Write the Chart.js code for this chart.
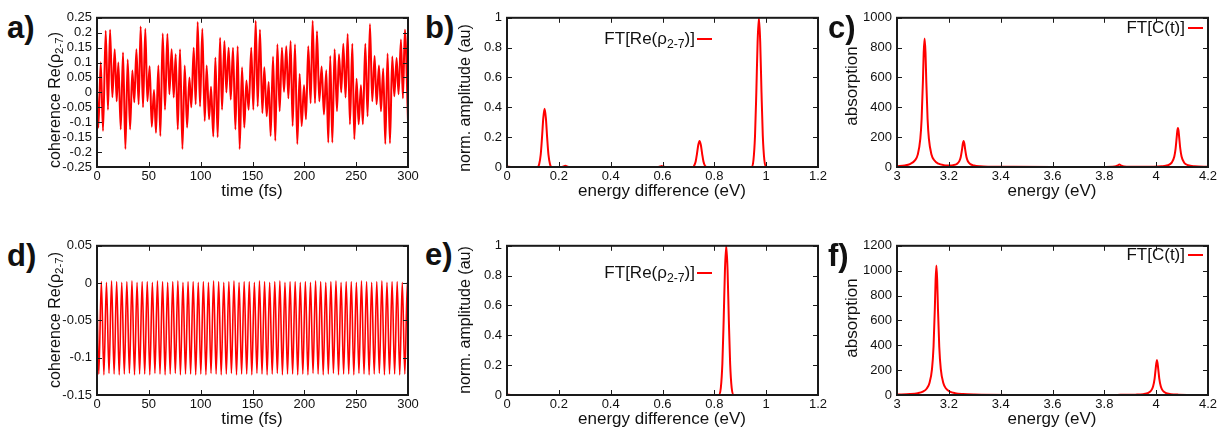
<!DOCTYPE html>
<html>
<head>
<meta charset="utf-8">
<script src="https://cdn.jsdelivr.net/npm/chart.js@4.4.1/dist/chart.umd.min.js"></script>
<style>
  body { margin: 0; background: #fff; }
  #wrap { position: relative; width: 1222px; height: 428px; overflow: hidden; background: #fff;
          font-family: 'Liberation Sans', Arial, sans-serif; color: #111; }
  canvas { position: absolute; }
  .tag { position: absolute; font-weight: bold; font-size: 31px; line-height: 30px; }
  .xtitle { position: absolute; font-size: 17px; white-space: nowrap; transform: translate(-50%, -50%); }
  .ytitle { position: absolute; font-size: 16px; white-space: nowrap; transform: translate(-50%, -50%) rotate(-90deg); }
  .key { position: absolute; font-size: 17px; white-space: nowrap; line-height: 20px; text-align: right; }
  .keyline { position: absolute; width: 15px; height: 2px; background: #ff0000; }
  sub { font-size: 0.72em; vertical-align: -0.3em; line-height: 0; }
</style>
</head>
<body>
<div id="wrap">
  <canvas id="chartA" width="372" height="184" style="left:52px;top:5px"></canvas>
  <canvas id="chartB" width="372" height="184" style="left:462px;top:5px"></canvas>
  <canvas id="chartC" width="372" height="184" style="left:852px;top:5px"></canvas>
  <canvas id="chartD" width="372" height="184" style="left:52px;top:233px"></canvas>
  <canvas id="chartE" width="372" height="184" style="left:462px;top:233px"></canvas>
  <canvas id="chartF" width="372" height="184" style="left:852px;top:233px"></canvas>

  <div class="tag" style="left:7px;top:13px">a)</div>
  <div class="tag" style="left:425px;top:13px">b)</div>
  <div class="tag" style="left:828px;top:13px">c)</div>
  <div class="tag" style="left:7px;top:241px">d)</div>
  <div class="tag" style="left:425px;top:240px">e)</div>
  <div class="tag" style="left:828px;top:241px">f)</div>

  <div class="ytitle" style="left:55px;top:100px">coherence Re(ρ<sub>2-7</sub>)</div>
  <div class="ytitle" style="left:465px;top:98px">norm. amplitude (au)</div>
  <div class="ytitle" style="left:852px;top:86px;font-size:17px">absorption</div>
  <div class="ytitle" style="left:55px;top:320px">coherence Re(ρ<sub>2-7</sub>)</div>
  <div class="ytitle" style="left:465px;top:320px">norm. amplitude (au)</div>
  <div class="ytitle" style="left:852px;top:318px;font-size:17px">absorption</div>

  <div class="xtitle" style="left:252px;top:191px">time (fs)</div>
  <div class="xtitle" style="left:662px;top:191px">energy difference (eV)</div>
  <div class="xtitle" style="left:1052px;top:191px">energy (eV)</div>
  <div class="xtitle" style="left:252px;top:419px">time (fs)</div>
  <div class="xtitle" style="left:662px;top:419px">energy difference (eV)</div>
  <div class="xtitle" style="left:1052px;top:419px">energy (eV)</div>

  <div class="key" style="right:527px;top:29px">FT[Re(ρ<sub>2-7</sub>)]</div>
  <div class="keyline" style="left:697px;top:38px"></div>
  <div class="key" style="right:527px;top:263px">FT[Re(ρ<sub>2-7</sub>)]</div>
  <div class="keyline" style="left:697px;top:272px"></div>
  <div class="key" style="right:37px;top:18px">FT[C(t)]</div>
  <div class="keyline" style="left:1188px;top:27px"></div>
  <div class="key" style="right:37px;top:245px">FT[C(t)]</div>
  <div class="keyline" style="left:1188px;top:254px"></div>
</div>

<script>
// a) coherence, extrema (time in fs)
const aTime = [0, 1.3, 3.6, 5.8, 8.4, 10.6, 12.6, 14.8, 17.1, 19.0, 20.6, 22.9, 25.1, 27.4, 29.6, 31.9, 34.1, 36.0,
    38.0, 40.2, 42.1, 44.4, 46.6, 48.6, 50.8, 52.8, 55.0, 56.9, 59.2, 61.1, 63.4, 65.6, 67.9, 69.8, 72.0, 74.0,
    75.9, 77.9, 80.1, 82.4, 84.6, 86.9, 89.1, 91.0, 93.3, 95.2, 97.1, 99.4, 101.6, 103.9, 105.8, 108.1, 110.0, 112.2,
    114.2, 116.4, 118.7, 120.6, 122.9, 124.8, 127.0, 129.0, 131.2, 133.5, 135.7, 137.6, 139.9, 142.1, 144.1, 146.3, 148.8,
    150.8, 153.1, 155.0, 157.2, 159.5, 161.4, 163.7, 165.6, 167.5, 169.8, 172.0, 174.0, 176.2, 178.4, 180.4, 182.6, 184.6,
    186.8, 188.7, 191.0, 193.2, 195.5, 197.4, 199.7, 201.6, 203.8, 206.1, 208.0, 210.3, 212.2, 214.4, 216.7, 218.9, 221.2,
    223.1, 225.0, 227.0, 229.2, 231.5, 233.4, 235.6, 237.6, 239.8, 241.8, 244.0, 246.3, 248.2, 250.4, 252.4, 254.6, 256.5,
    258.8, 261.0, 263.3, 265.5, 267.8, 269.7, 272.0, 273.9, 276.1, 278.1, 280.3, 282.6, 284.8, 286.8, 289.0, 290.9, 293.2,
    295.1, 297.0, 300];
const aCoherence = [0.0, -0.118, 0.101, -0.129, 0.207, -0.058, 0.21, -0.016, 0.145, -0.03, 0.10, -0.124, 0.134, -0.19, 0.11, -0.124, 0.073, -0.033,
    0.145, -0.04, 0.221, -0.05, 0.213, -0.03, 0.088, -0.115, 0.008, -0.135, 0.09, -0.146, 0.197, -0.058, 0.196, -0.006, 0.145, -0.017,
    0.128, -0.124, 0.145, -0.19, 0.09, -0.118, 0.05, -0.05, 0.15, -0.04, 0.236, -0.047, 0.213, -0.096, 0.09, -0.09, 0.019, -0.148,
    0.117, -0.15, 0.183, -0.058, 0.172, 0.0, 0.15, -0.024, 0.15, -0.124, 0.155, -0.19, 0.084, -0.118, 0.04, -0.058, 0.15,
    -0.058, 0.24, -0.047, 0.21, -0.069, 0.084, -0.08, 0.035, -0.146, 0.12, -0.162, 0.161, -0.063, 0.15, 0.002, 0.155, -0.02,
    0.172, -0.113, 0.161, -0.173, 0.062, -0.113, 0.024, -0.09, 0.155, -0.036, 0.24, -0.036, 0.205, -0.03, 0.087, -0.074, 0.074,
    -0.168, 0.122, -0.168, 0.145, -0.063, 0.128, 0.0, 0.163, -0.017, 0.196, -0.107, 0.163, -0.157, 0.046, -0.107, 0.024, -0.107,
    0.163, -0.08, 0.229, -0.03, 0.122, -0.04, 0.09, -0.063, 0.08, -0.173, 0.13, -0.17, 0.12, -0.013, 0.115, -0.006, 0.177,
    -0.02, 0.21, -0.096];

// d) coherence, single frequency
const dTime = [0,
    1.74, 4.2, 6.66, 9.12, 11.58, 14.04, 16.5, 18.96, 21.42, 23.88, 26.34, 28.8, 31.26, 33.72, 36.18, 38.64, 41.1, 43.56, 46.02, 48.48,
    50.94, 53.4, 55.86, 58.32, 60.78, 63.24, 65.7, 68.16, 70.62, 73.08, 75.54, 78.0, 80.46, 82.92, 85.38, 87.84, 90.3, 92.76, 95.22, 97.68,
    100.14, 102.6, 105.06, 107.52, 109.98, 112.44, 114.9, 117.36, 119.82, 122.28, 124.74, 127.2, 129.66, 132.12, 134.58, 137.04, 139.5, 141.96, 144.42, 146.88,
    149.34, 151.8, 154.26, 156.72, 159.18, 161.64, 164.1, 166.56, 169.02, 171.48, 173.94, 176.4, 178.86, 181.32, 183.78, 186.24, 188.7, 191.16, 193.62, 196.08,
    198.54, 201.0, 203.46, 205.92, 208.38, 210.84, 213.3, 215.76, 218.22, 220.68, 223.14, 225.6, 228.06, 230.52, 232.98, 235.44, 237.9, 240.36, 242.82, 245.28,
    247.74, 250.2, 252.66, 255.12, 257.58, 260.04, 262.5, 264.96, 267.42, 269.88, 272.34, 274.8, 277.26, 279.72, 282.18, 284.64, 287.1, 289.56, 292.02, 294.48,
    296.94, 299.4,
    300];
const dCoherence = [-0.02,
    -0.122, 0.002, -0.123, 0.001, -0.121, 0.003, -0.122, 0.002, -0.123, 0.001, -0.122, 0.002, -0.121, 0.003, -0.123, 0.001, -0.122, 0.002, -0.122, 0.002,
    -0.123, 0.001, -0.121, 0.003, -0.122, 0.002, -0.123, 0.001, -0.122, 0.002, -0.121, 0.003, -0.123, 0.001, -0.122, 0.002, -0.122, 0.002, -0.123, 0.001,
    -0.122, 0.002, -0.123, 0.001, -0.121, 0.003, -0.122, 0.002, -0.123, 0.001, -0.122, 0.002, -0.121, 0.003, -0.123, 0.001, -0.122, 0.002, -0.122, 0.002,
    -0.123, 0.001, -0.121, 0.003, -0.122, 0.002, -0.123, 0.001, -0.122, 0.002, -0.121, 0.003, -0.123, 0.001, -0.122, 0.002, -0.122, 0.002, -0.123, 0.001,
    -0.122, 0.002, -0.123, 0.001, -0.121, 0.003, -0.122, 0.002, -0.123, 0.001, -0.122, 0.002, -0.121, 0.003, -0.123, 0.001, -0.122, 0.002, -0.122, 0.002,
    -0.123, 0.001, -0.121, 0.003, -0.122, 0.002, -0.123, 0.001, -0.122, 0.002, -0.121, 0.003, -0.123, 0.001, -0.122, 0.002, -0.122, 0.002, -0.123, 0.001,
    -0.122, 0.002,
    -0.004];

// b) and e) Fourier amplitude of the coherence
const bEnergy = [0, 0.02, 0.118, 0.124, 0.13, 0.135, 0.14, 0.145, 0.15, 0.155, 0.16, 0.166, 0.172,
    0.21, 0.218, 0.225, 0.232, 0.24, 0.58, 0.59, 0.597, 0.604, 0.614,
    0.718, 0.722, 0.728, 0.733, 0.738, 0.743, 0.748, 0.753, 0.758, 0.764, 0.77,
    0.945, 0.951, 0.957, 0.962, 0.967, 0.972, 0.977, 0.982, 0.987, 0.993, 0.999, 1.2];
const bAmplitude = [0.003, 0, 0, 0.018, 0.082, 0.195, 0.328, 0.39, 0.328, 0.195, 0.082, 0.018, 0,
    0, 0.004, 0.008, 0.004, 0, 0, 0.003, 0.006, 0.003, 0,
    0, 0.008, 0.037, 0.088, 0.147, 0.175, 0.147, 0.088, 0.037, 0.008, 0,
    0, 0.047, 0.21, 0.5, 0.84, 1.0, 0.84, 0.5, 0.21, 0.047, 0, 0];
const eEnergy = [0, 0.02, 0.818, 0.825, 0.831, 0.836, 0.841, 0.846, 0.851, 0.856, 0.861, 0.867, 0.874, 1.2];
const eAmplitude = [0.003, 0, 0, 0.047, 0.21, 0.5, 0.84, 1.0, 0.84, 0.5, 0.21, 0.047, 0, 0];

// c) and f) absorption spectra
const cEnergy = [3.0, 3.03, 3.05, 3.07, 3.08, 3.09, 3.095, 3.1, 3.103, 3.1065, 3.11, 3.113, 3.118, 3.123, 3.133, 3.143,
    3.16, 3.18, 3.2, 3.217, 3.231, 3.241, 3.246, 3.251, 3.254, 3.257, 3.26, 3.263, 3.268, 3.273, 3.283, 3.297,
    3.32, 3.36, 3.45, 3.6, 3.75, 3.8, 3.83, 3.845, 3.852, 3.858, 3.864, 3.871, 3.886, 3.92, 3.98,
    4.02, 4.045, 4.06, 4.07, 4.075, 4.079, 4.0815, 4.084, 4.0865, 4.089, 4.093, 4.098, 4.108, 4.123, 4.148, 4.2];
const cAbsorption = [5.7, 10.9, 19.8, 46, 83, 190, 322, 575, 766, 862, 766, 575, 322, 190, 84, 47,
    22, 12.5, 10.8, 12.5, 20.6, 41.4, 67.6, 118, 156, 175, 156, 118, 67, 40.5, 19.3, 9.8,
    4.4, 2.1, 1.0, 0.5, 0.6, 0.8, 1.8, 5.3, 11.2, 16.5, 11.2, 5.3, 1.9, 1.0, 1.9,
    4.6, 11.9, 29.2, 70.6, 123.6, 194.6, 241, 262, 241, 195, 124, 71, 29, 12, 4.6, 1.7];
const fEnergy = [3.0, 3.05, 3.08, 3.1, 3.115, 3.125, 3.135, 3.141, 3.146, 3.149, 3.152, 3.155, 3.158, 3.163, 3.169, 3.179,
    3.189, 3.204, 3.224, 3.254, 3.3, 3.45, 3.7, 3.85, 3.92, 3.95, 3.97, 3.98, 3.988, 3.994, 3.998,
    4.003, 4.008, 4.012, 4.018, 4.026, 4.036, 4.056, 4.086, 4.2];
const fAbsorption = [3.3, 7.2, 14.3, 27.1, 52.2, 94, 208, 390, 696, 926, 1042, 926, 696, 390, 208, 94,
    52, 27, 14.3, 7.2, 3.4, 0.8, 0.5, 1.0, 2.9, 7.0, 17.5, 33.8, 68, 132, 209,
    281, 209, 132, 68, 34, 17.5, 7.0, 2.9, 0.5];

Chart.defaults.font.family = "'Liberation Sans', Arial, sans-serif";
Chart.defaults.font.size = 13;
Chart.defaults.color = '#111';

// gnuplot style box with inward ticks on all four sides, drawn over the curve
const framePlugin = {
    id: 'frame',
    afterDatasetsDraw(chart) {
        const { ctx, chartArea: a, scales } = chart;
        ctx.save();
        ctx.strokeStyle = '#1a1a1a';
        ctx.lineWidth = 1;
        ctx.beginPath();
        scales.x.ticks.forEach(t => {
            const px = Math.round(scales.x.getPixelForValue(t.value)) + 0.5;
            ctx.moveTo(px, a.bottom); ctx.lineTo(px, a.bottom - 5);
            ctx.moveTo(px, a.top); ctx.lineTo(px, a.top + 5);
        });
        scales.y.ticks.forEach(t => {
            const py = Math.round(scales.y.getPixelForValue(t.value)) + 0.5;
            ctx.moveTo(a.left, py); ctx.lineTo(a.left + 5, py);
            ctx.moveTo(a.right, py); ctx.lineTo(a.right - 5, py);
        });
        ctx.stroke();
        ctx.lineWidth = 2;
        ctx.strokeRect(a.left, a.top, a.right - a.left, a.bottom - a.top);
        ctx.restore();
    }
};

const fmt = v => String(Math.round(v * 1000) / 1000);

function toPoints(xs, ys) {
    return xs.map((x, i) => ({ x: x, y: ys[i] }));
}

function makePanel(id, xs, ys, xRange, yRange, lineWidth) {
    return new Chart(document.getElementById(id), {
        type: 'line',
        data: {
            datasets: [{
                data: toPoints(xs, ys),
                borderColor: '#ff0000',
                borderWidth: lineWidth,
                pointRadius: 0,
                cubicInterpolationMode: 'monotone',
                fill: false
            }]
        },
        options: {
            responsive: false,
            animation: false,
            events: [],
            layout: { padding: { top: 10, right: 16, left: 0, bottom: 0 } },
            plugins: { legend: { display: false }, tooltip: { enabled: false } },
            scales: {
                x: {
                    type: 'linear', min: xRange[0], max: xRange[1],
                    grid: { display: false, drawTicks: false },
                    border: { display: false },
                    ticks: { stepSize: xRange[2], padding: 2, maxRotation: 0, autoSkip: false, callback: fmt },
                    afterFit: s => { s.height = 22; }
                },
                y: {
                    min: yRange[0], max: yRange[1],
                    grid: { display: false, drawTicks: false },
                    border: { display: false },
                    ticks: { stepSize: yRange[2], padding: 5, autoSkip: false, callback: fmt },
                    afterFit: s => { s.width = 45; }
                }
            }
        },
        plugins: [framePlugin]
    });
}

makePanel('chartA', aTime, aCoherence, [0, 300, 50], [-0.25, 0.25, 0.05], 2);
makePanel('chartB', bEnergy, bAmplitude, [0, 1.2, 0.2], [0, 1, 0.2], 2);
makePanel('chartC', cEnergy, cAbsorption, [3, 4.2, 0.2], [0, 1000, 200], 2);
makePanel('chartD', dTime, dCoherence, [0, 300, 50], [-0.15, 0.05, 0.05], 1.6);
makePanel('chartE', eEnergy, eAmplitude, [0, 1.2, 0.2], [0, 1, 0.2], 2);
makePanel('chartF', fEnergy, fAbsorption, [3, 4.2, 0.2], [0, 1200, 200], 2);
</script>
</body>
</html>
